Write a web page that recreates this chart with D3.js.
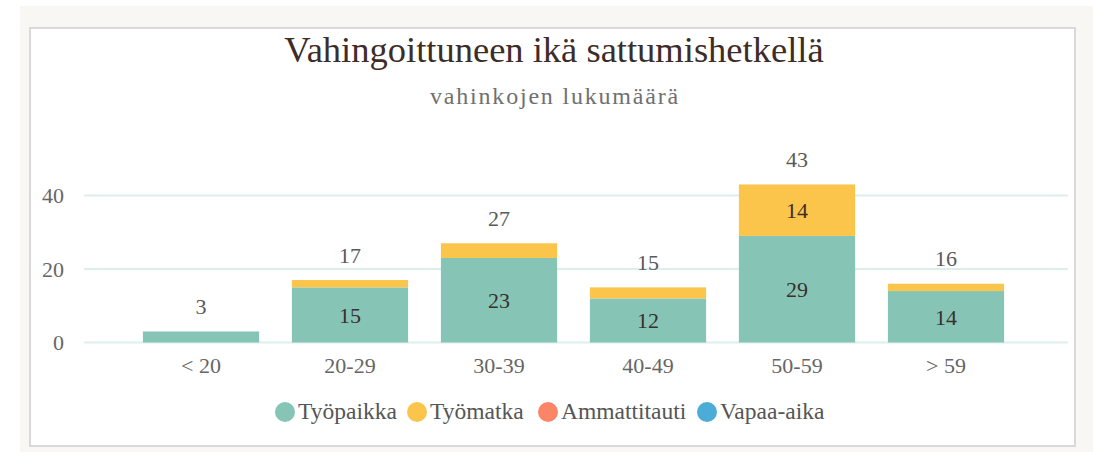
<!DOCTYPE html>
<html>
<head>
<meta charset="utf-8">
<script src="https://cdn.jsdelivr.net/npm/d3@7"></script>
<style>
  body { margin: 0; background: #fff; }
  svg { display: block; }
  svg text { font-family: "Liberation Serif", "Times New Roman", serif; }
</style>
</head>
<body>
<svg id="chart"></svg>
<script>
// ikäryhmät ja vahinkomäärät
const categories = ["< 20", "20-29", "30-39", "40-49", "50-59", "> 59"];
const seriesNames = ["Työpaikka", "Työmatka", "Ammattitauti", "Vapaa-aika"];
const tyopaikka = [3, 15, 23, 12, 29, 14];
const tyomatka = [0, 2, 4, 3, 14, 2];
const ammattitauti = [0, 0, 0, 0, 0, 0];
const vapaaAika = [0, 0, 0, 0, 0, 0];
const yTicks = [0, 20, 40];
const colors = ["#86c5b6", "#fbc54c", "#fc8467", "#4badd5"];

const svgWidth = 1096, svgHeight = 454;

const svg = d3.select("#chart")
    .attr("width", svgWidth)
    .attr("height", svgHeight);

// tausta ja paneeli
svg.append("rect")
    .attr("x", 20).attr("y", 6)
    .attr("width", 1073).attr("height", 446)
    .attr("fill", "#f8f7f3");

svg.append("rect")
    .attr("x", 30).attr("y", 28)
    .attr("width", 1045).attr("height", 418)
    .attr("fill", "#fff")
    .attr("stroke", "#d9d9d9")
    .attr("stroke-width", 2);

svg.append("text")
    .attr("x", 554).attr("y", 62)
    .attr("text-anchor", "middle")
    .attr("font-size", 36.5)
    .attr("fill", "#3d2c27")
    .text("Vahingoittuneen ikä sattumishetkellä");

svg.append("text")
    .attr("x", 555).attr("y", 104)
    .attr("text-anchor", "middle")
    .attr("font-size", 24)
    .attr("letter-spacing", 1.8)
    .attr("fill", "#707070")
    .text("vahinkojen lukumäärä");

const rows = categories.map(function (c, i) {
    return {
        cat: c,
        "Työpaikka": tyopaikka[i],
        "Työmatka": tyomatka[i],
        "Ammattitauti": ammattitauti[i],
        "Vapaa-aika": vapaaAika[i]
    };
});

const stacked = d3.stack().keys(seriesNames)(rows);

const x = d3.scaleBand()
    .domain(categories)
    .range([126.5, 1020.5])
    .paddingInner(0.22)
    .paddingOuter(0.11);

const y = d3.scaleLinear()
    .domain([0, 40])
    .range([342.5, 195.5]);

// ruudukko
svg.append("g")
    .selectAll("line")
    .data(yTicks)
    .join("line")
    .attr("x1", 84).attr("x2", 1068)
    .attr("y1", d => y(d)).attr("y2", d => y(d))
    .attr("stroke", "#dcefeb")
    .attr("stroke-width", 2);

svg.append("g")
    .selectAll("text")
    .data(yTicks)
    .join("text")
    .attr("x", 64)
    .attr("y", d => y(d) + 7.5)
    .attr("text-anchor", "end")
    .attr("font-size", 22)
    .attr("fill", "#666")
    .text(d => d);

// pylväät
svg.append("g")
    .selectAll("g")
    .data(stacked)
    .join("g")
    .attr("fill", (d, i) => colors[i])
    .selectAll("rect")
    .data(d => d)
    .join("rect")
    .attr("x", d => x(d.data.cat))
    .attr("y", d => y(d[1]))
    .attr("width", x.bandwidth())
    .attr("height", d => y(d[0]) - y(d[1]));

// arvot palkkien sisällä
stacked.forEach(function (s) {
    svg.append("g")
        .selectAll("text")
        .data(s.filter(d => (d[1] - d[0]) >= 5))
        .join("text")
        .attr("x", d => x(d.data.cat) + x.bandwidth() / 2)
        .attr("y", d => (y(d[0]) + y(d[1])) / 2 + 8)
        .attr("text-anchor", "middle")
        .attr("font-size", 22)
        .attr("fill", "#3a2f2c")
        .text(d => d[1] - d[0]);
});

// summat
svg.append("g")
    .selectAll("text")
    .data(rows)
    .join("text")
    .attr("x", d => x(d.cat) + x.bandwidth() / 2)
    .attr("y", d => y(d3.sum(seriesNames, k => d[k])) - 17.5)
    .attr("text-anchor", "middle")
    .attr("font-size", 22)
    .attr("fill", "#5a5a5a")
    .text(d => d3.sum(seriesNames, k => d[k]));

// x-akseli
svg.append("g")
    .selectAll("text")
    .data(categories)
    .join("text")
    .attr("x", d => x(d) + x.bandwidth() / 2)
    .attr("y", 373)
    .attr("text-anchor", "middle")
    .attr("font-size", 22)
    .attr("fill", "#666")
    .text(d => d);

// selite
const legendX = [285, 417, 548, 707];
const legend = svg.append("g")
    .selectAll("g")
    .data(seriesNames)
    .join("g")
    .attr("transform", (d, i) => "translate(" + legendX[i] + ",412)");

legend.append("circle")
    .attr("r", 10)
    .attr("fill", (d, i) => colors[i]);

legend.append("text")
    .attr("x", 13)
    .attr("y", 7)
    .attr("font-size", 23.5)
    .attr("fill", "#555")
    .text(d => d);
</script>
</body>
</html>
